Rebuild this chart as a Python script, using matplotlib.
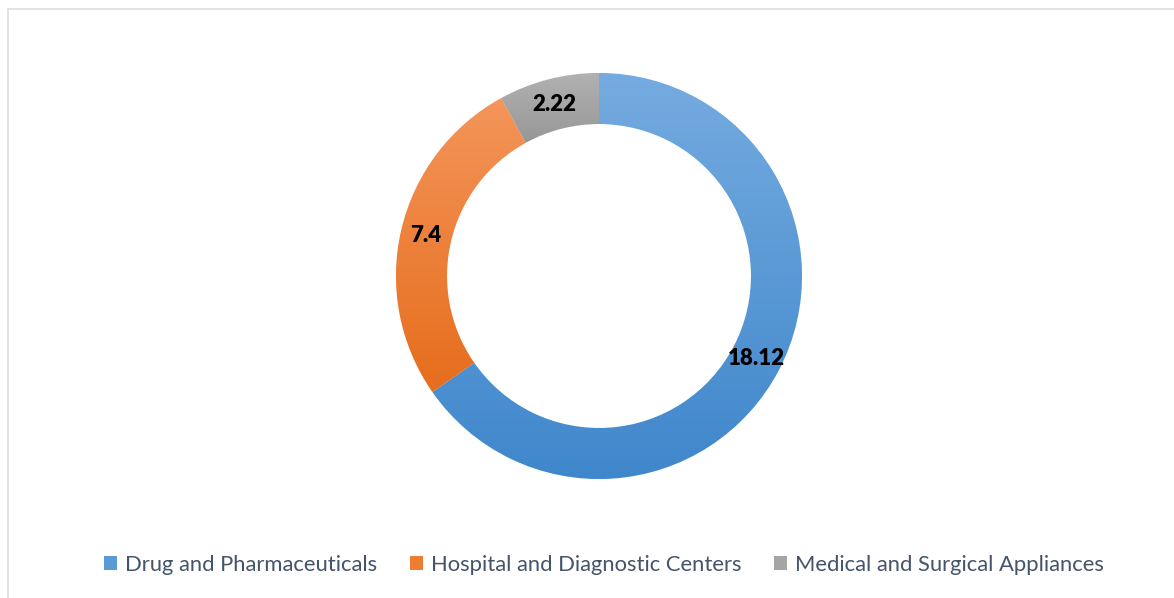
import numpy as np
import matplotlib
matplotlib.use("Agg")
import matplotlib.pyplot as plt
from matplotlib.patches import Rectangle
from matplotlib.colors import LinearSegmentedColormap

categories = ["Drug and Pharmaceuticals", "Hospital and Diagnostic Centers", "Medical and Surgical Appliances"]
values = [18.12, 7.4, 2.22]
labels = ["18.12", "7.4", "2.22"]

top_colors = ["#75ABE0", "#F4955A", "#B1B1B1"]
bot_colors = ["#3F87CB", "#E66D1C", "#979797"]
legend_colors = ["#5B9BD5", "#ED7D31", "#A5A5A5"]

plt.rcParams['font.family'] = ['Lato', 'DejaVu Sans']

fig = plt.figure(figsize=(11.74, 5.98), dpi=100)
fig.patch.set_facecolor("white")

# chart frame
fig.add_artist(Rectangle((8/1174, -0.05), 1.2, (598-9)/598 + 0.05, transform=fig.transFigure,
                         fill=False, edgecolor="#D9DEE4", linewidth=1.2))

R = 203
cx, cy = 599, 276
ax = fig.add_axes([(cx-R)/1174, (598-cy-R)/598, 2*R/1174, 2*R/598])
ax.set_xlim(-1, 1)
ax.set_ylim(-1, 1)
ax.set_aspect("equal")
ax.axis("off")

width = 1 - 152/203
wedges, _ = ax.pie(values, startangle=90, counterclock=False, radius=1,
                   wedgeprops=dict(width=width, edgecolor="white", linewidth=0.6),
                   colors=legend_colors)

for w, tc, bc in zip(wedges, top_colors, bot_colors):
    ext = w.get_path().get_extents()
    cmap = LinearSegmentedColormap.from_list("g", [bc, tc])
    grad = np.linspace(0, 1, 256).reshape(-1, 1)
    im = ax.imshow(grad, cmap=cmap, origin="lower", aspect="auto",
                   extent=[ext.x0, ext.x1, ext.y0, ext.y1], zorder=w.get_zorder()+0.1)
    im.set_clip_path(w)

ax.set_xlim(-1, 1)
ax.set_ylim(-1, 1)

total = sum(values)
start = 90.0
rmid = 1 - width/2
for v, lab in zip(values, labels):
    ang = start - v/total*360/2
    start -= v/total*360
    x = rmid*np.cos(np.radians(ang))
    y = rmid*np.sin(np.radians(ang))
    ax.text(x, y, lab, ha="center", va="center", fontsize=16, fontweight="heavy",
            color="black", zorder=10)

handles = [Rectangle((0, 0), 1, 1, facecolor=c, edgecolor="none") for c in legend_colors]
fig.legend(handles, categories, loc="center", bbox_to_anchor=(604/1174, 1-565/598), ncol=3,
           frameon=False, fontsize=15.8, labelcolor="#44546A", handlelength=0.6,
           handleheight=0.6, handletextpad=0.35, columnspacing=1.5)

fig.savefig("out.png", dpi=100, facecolor="white")
